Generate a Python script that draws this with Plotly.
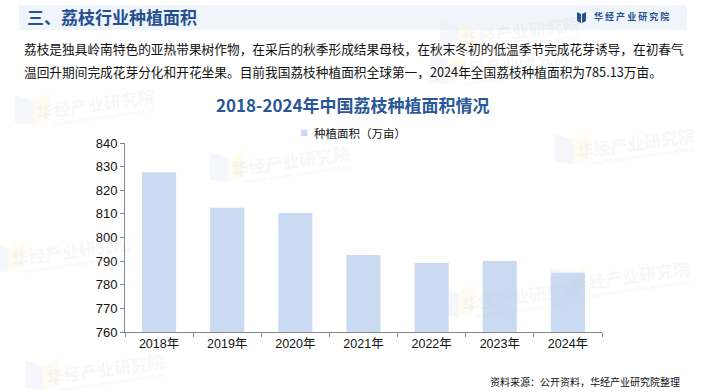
import plotly.graph_objects as go

years = ["2018年", "2019年", "2020年", "2021年", "2022年", "2023年", "2024年"]
area = [827.6, 812.6, 810.4, 792.6, 789.2, 790.1, 785.13]
y_ticks = [760, 770, 780, 790, 800, 810, 820, 830, 840]
series_name = "种植面积（万亩）"

CJK = "Noto Sans CJK SC"
AX = "Liberation Sans, Noto Sans CJK SC"
DARK = "#24508f"
BAR = "#c9daf2"

fig = go.Figure()
fig.add_trace(go.Bar(x=years, y=area, name=series_name, marker_color=BAR,
                     marker_line_width=0, width=0.5, showlegend=False, hoverinfo="skip"))

def px(x):
    return (x-125)/477

def py(y):
    return (332-y)/189

shapes = []
ann = []

# header band
shapes.append(dict(type="rect", xref="paper", yref="paper",
                   x0=px(19), x1=px(687), y0=py(5), y1=py(30),
                   layer="below", line_width=0, fillcolor="#f0f4fb"))

# watermarks
wm = [(95, 103), (290, 160), (520, 295), (105, 368), (635, 142), (630, 275), (70, 250), (520, 30), (510, 62)]
for (x, y) in wm:
    shapes.append(dict(type="path", xref="paper", yref="paper", layer="below", line_width=0,
                       fillcolor="rgba(225,233,247,0.35)",
                       path=f"M {px(x-80)} {py(y-8)} L {px(x-62)} {py(y-2)} L {px(x-62)} {py(y+22)} L {px(x-80)} {py(y+20)} Z"))
    shapes.append(dict(type="path", xref="paper", yref="paper", layer="below", line_width=0,
                       fillcolor="rgba(252,245,220,0.4)",
                       path=f"M {px(x-62)} {py(y-2)} L {px(x-46)} {py(y-10)} L {px(x-46)} {py(y+16)} L {px(x-62)} {py(y+22)} Z"))
    ann.append(dict(xref="paper", yref="paper", x=px(x), y=py(y), text="<b>华经产业研究院</b>",
                    showarrow=False, textangle=-8,
                    font=dict(family=CJK, size=17, color="rgba(205,205,205,0.16)"),
                    xanchor="center", yanchor="middle"))
    ann.append(dict(xref="paper", yref="paper", x=px(x+8), y=py(y+14), text="HUAJING INDUSTRY RESEARCH INSTITUTE",
                    showarrow=False, textangle=-8,
                    font=dict(family="Liberation Sans", size=5, color="rgba(205,205,205,0.25)"),
                    xanchor="center", yanchor="middle"))

# header icon
shapes.append(dict(type="path", xref="paper", yref="paper", line_width=0, fillcolor=DARK,
                   path=f"M {px(577)} {py(12)} L {px(581)} {py(14)} L {px(581)} {py(23)} L {px(577)} {py(21)} Z"))
shapes.append(dict(type="path", xref="paper", yref="paper", line_width=0, fillcolor=DARK,
                   path=f"M {px(582)} {py(14)} L {px(586)} {py(12)} L {px(586)} {py(21)} L {px(582)} {py(23)} Z"))

# legend (manual)
shapes.append(dict(type="rect", xref="paper", yref="paper", line_width=0, fillcolor=BAR,
                   x0=px(301), x1=px(307.5), y0=py(129.5), y1=py(136)))

ann += [
    dict(xref="paper", yref="paper", x=px(25), y=py(17), text="<b>三、荔枝行业种植面积</b>",
         showarrow=False, xanchor="left", yanchor="middle",
         font=dict(family=CJK, size=17, color=DARK)),
    dict(xref="paper", yref="paper", x=px(592), y=py(17), text="<b>华 经 产 业 研 究 院</b>",
         showarrow=False, xanchor="left", yanchor="middle",
         font=dict(family=CJK, size=9, color=DARK)),
    dict(xref="paper", yref="paper", x=px(22), y=py(49),
         text="荔枝是独具岭南特色的亚热带果树作物，在采后的秋季形成结果母枝，在秋末冬初的低温季节完成花芽诱导，在初春气",
         showarrow=False, xanchor="left", yanchor="middle",
         font=dict(family=CJK, size=12.7, color="#111111")),
    dict(xref="paper", yref="paper", x=px(22), y=py(71),
         text="温回升期间完成花芽分化和开花坐果。目前我国荔枝种植面积全球第一，2024年全国荔枝种植面积为785.13万亩。",
         showarrow=False, xanchor="left", yanchor="middle",
         font=dict(family=CJK, size=12.7, color="#111111")),
    dict(xref="paper", yref="paper", x=px(353), y=py(105), text="<b>2018-2024年中国荔枝种植面积情况</b>",
         showarrow=False, xanchor="center", yanchor="middle",
         font=dict(family=CJK, size=17, color="#2a5797")),
    dict(xref="paper", yref="paper", x=px(312), y=py(133), text=series_name,
         showarrow=False, xanchor="left", yanchor="middle",
         font=dict(family=CJK, size=11.5, color="#111111")),
    dict(xref="paper", yref="paper", x=px(682), y=py(381), text="资料来源：公开资料，华经产业研究院整理",
         showarrow=False, xanchor="right", yanchor="middle",
         font=dict(family=CJK, size=10, color="#111111")),
]

fig.update_layout(
    width=705, height=392,
    margin=dict(l=125, r=103, t=143, b=60),
    paper_bgcolor="white", plot_bgcolor="rgba(0,0,0,0)",
    showlegend=False, hovermode=False,
    shapes=shapes, annotations=ann,
    bargap=0.5,
)
fig.update_yaxes(range=[760, 840], tickvals=y_ticks, showgrid=False, zeroline=False,
                 showline=True, linecolor="#868686", linewidth=1, ticks="outside", ticklen=4,
                 tickcolor="#868686", tickfont=dict(family=AX, size=13, color="#111111"))
fig.update_xaxes(showgrid=False, showline=True, linecolor="#868686", linewidth=1,
                 ticks="outside", ticklen=4, tickcolor="#868686", tickson="boundaries",
                 tickfont=dict(family=AX, size=12.5, color="#111111"))

fig.write_html("out.html", config={"displayModeBar": False})

# remove default page margin so the figure sits at the window's top-left corner
with open("out.html", "r", encoding="utf-8") as f:
    html = f.read()
html = html.replace("<body>", '<body style="margin:0;padding:0;">', 1)
with open("out.html", "w", encoding="utf-8") as f:
    f.write(html)
